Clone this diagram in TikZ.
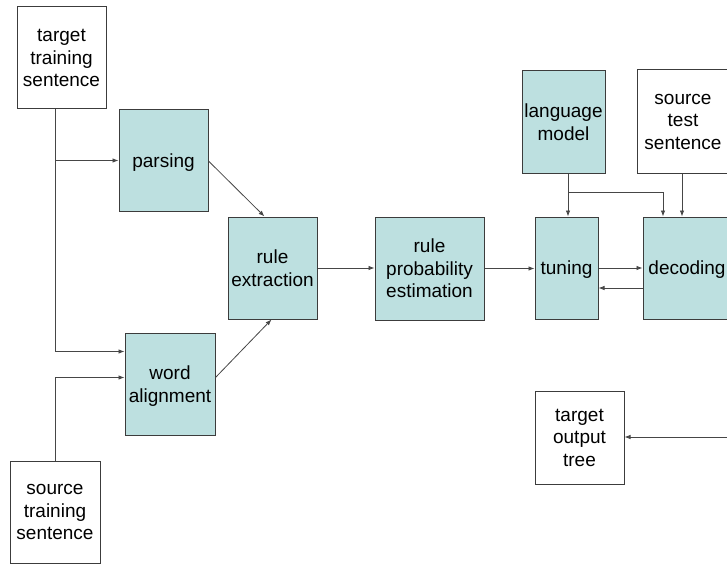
\documentclass[tikz,border=0pt]{standalone}
\usepackage{fontspec}
\setmainfont{Liberation Sans}
\usetikzlibrary{arrows.meta,calc}
\definecolor{boxfill}{RGB}{189,224,224}
\definecolor{boxline}{RGB}{60,60,60}
\definecolor{linecol}{RGB}{70,70,70}
\tikzset{
  base/.style={draw=boxline,line width=1pt,inner sep=0pt,align=center,
    text depth=0pt,font=\fontsize{19}{22.5}\selectfont},
  proc/.style={base,fill=boxfill},
  datab/.style={base,fill=white},
  conn/.style={draw=linecol,line width=0.8pt},
  arr/.style={conn,-{Latex[length=6pt,width=4.5pt]}}
}
\begin{document}
\begin{tikzpicture}[x=1pt,y=-1pt]
\useasboundingbox (0,0) rectangle (727,564);
% nodes
\node[datab,minimum width=89pt,minimum height=102pt] (tts) at (61.5,58) {target\\training\\sentence};
\node[proc,minimum width=89pt,minimum height=102pt] (parse) at (163.5,160.5) {parsing};
\node[proc,minimum width=90pt,minimum height=102pt] (wa) at (170,384) {word\\alignment};
\node[datab,minimum width=90pt,minimum height=102pt] (sts) at (55,512) {source\\training\\sentence};
\node[proc,minimum width=89pt,minimum height=102pt] (re) at (272.5,268) {rule\\extraction};
\node[proc,minimum width=109pt,minimum height=103pt] (rpe) at (429.5,268.5) {rule\\probability\\estimation};
\node[proc,minimum width=83pt,minimum height=102pt] (lm) at (563.5,122) {language\\model};
\node[datab,minimum width=92pt,minimum height=103pt] (stest) at (683,121.5) {source\\test\\sentence};
\node[proc,minimum width=63pt,minimum height=102pt] (tun) at (566.5,268) {tuning};
\node[proc,minimum width=88pt,minimum height=102pt] (dec) at (687,268) {decoding};
\node[datab,minimum width=89pt,minimum height=93pt] (tot) at (579.5,437.5) {target\\output\\tree};
% helper coordinates
\coordinate (tx) at (55,0);
\coordinate (lmx) at (568,0);
\coordinate (br) at (568,192);
\coordinate (dx) at (663,0);
\coordinate (sx) at (682,0);
\coordinate (fe) at (727,437);
\coordinate (wa1) at ($(wa.north west)+(0,19)$);
\coordinate (wa2) at ($(wa.north west)+(0,45)$);
\coordinate (wa3) at ($(wa.north east)+(0,45)$);
\coordinate (pe) at ($(parse.north east)+(0,52)$);
\coordinate (re1) at ($(re.north west)+(37,0)$);
\coordinate (re2) at ($(re.south west)+(44,0)$);
\coordinate (db) at ($(dec.west)+(0,20)$);
% connectors
\draw[conn] (tts.south -| tx) -- (wa1 -| tx);
\draw[arr] (tx |- parse.west) -- (parse.west);
\draw[arr] (wa1 -| tx) -- (wa1);
\draw[arr] (sts.north) |- (wa2);
\draw[arr] (pe) -- (re1);
\draw[arr] (wa3) -- (re2);
\draw[arr] (re.east) -- (re.east -| rpe.west);
\draw[arr] (rpe.east) -- (rpe.east -| tun.west);
\draw[arr] (tun.east) -- (tun.east -| dec.west);
\draw[arr] (db) -- (db -| tun.east);
\draw[arr] (lm.south -| lmx) -- (tun.north -| lmx);
\draw[arr] (br) -| (dec.north -| dx);
\draw[arr] (stest.south -| sx) -- (dec.north -| sx);
\draw[arr] (fe) -- (fe -| tot.east);
\end{tikzpicture}
\end{document}
